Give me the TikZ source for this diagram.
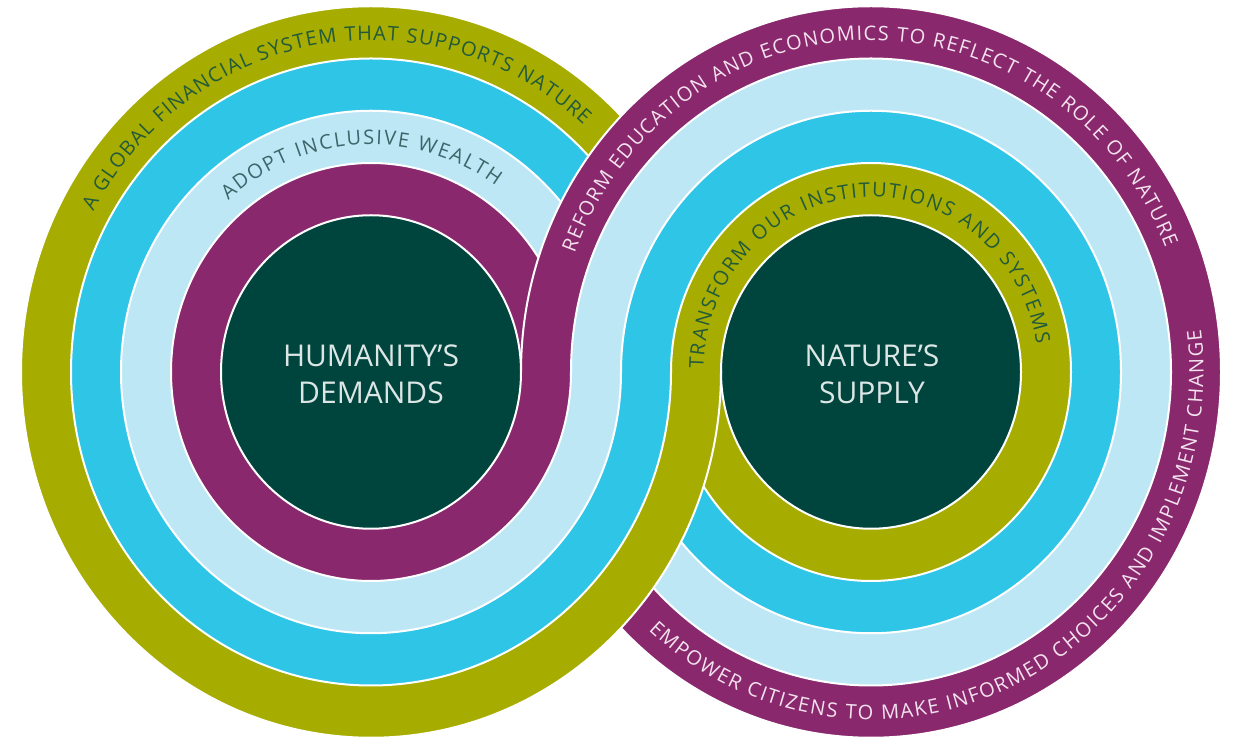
\documentclass[tikz,border=0pt]{standalone}
\usepackage{fontspec}
\setmainfont{Open Sans}
\usetikzlibrary{decorations.text,calc}
\definecolor{cOlive}{HTML}{A6AD00}
\definecolor{cCyan}{HTML}{2FC5E7}
\definecolor{cLight}{HTML}{BEE7F6}
\definecolor{cPurple}{HTML}{8A286D}
\definecolor{cDark}{HTML}{00443E}
\definecolor{tOlive}{HTML}{225A3B}
\definecolor{tLight}{HTML}{3D6569}
\definecolor{tPurple}{HTML}{F3E2EE}
\definecolor{tCenter}{HTML}{DCE7E5}
\newcommand\ringfont{\fontsize{20}{20}\selectfont}
\newcommand\leftdisc{%
  \fill[cOlive, band] (L) ellipse[x radius=350, y radius=365.75];
  \fill[cCyan, band] (L) ellipse[x radius=300, y radius=313.5];
  \fill[cLight, band] (L) ellipse[x radius=250, y radius=261.25];
  \fill[cPurple, band] (L) ellipse[x radius=200, y radius=209];
  \fill[cDark, band] (L) ellipse[x radius=150, y radius=156.75];}
\newcommand\rightdisc{%
  \fill[cPurple, band] (R) ellipse[x radius=350, y radius=365.75];
  \fill[cLight, band] (R) ellipse[x radius=300, y radius=313.5];
  \fill[cCyan, band] (R) ellipse[x radius=250, y radius=261.25];
  \fill[cOlive, band] (R) ellipse[x radius=200, y radius=209];
  \fill[cDark, band] (R) ellipse[x radius=150, y radius=156.75];}
\begin{document}
\begin{tikzpicture}[x=1pt,y=1pt,
  band/.style={draw=white, line width=2pt},
  centertext/.style={text=tCenter, font=\fontsize{30}{37}\selectfont, align=center, inner sep=0pt},
  ringtext/.style={decorate, decoration={text along path, text align=fit to path, text={#1}}}]
\useasboundingbox (0,0) rectangle (1235,742);
\fill[white] (0,0) rectangle (1235,742);
\coordinate (L) at (371,370);
\coordinate (R) at (871,370);
% layer 1: left disc
\leftdisc
% layer 2: right disc on top
\rightdisc
% layer 3: left disc on top in the lower half
\begin{scope}
  \clip (0,0) rectangle (1235,370);
  \leftdisc
\end{scope}
% texts on the bands
\path[ringtext={|\ringfont\color{tOlive}|A GLOBAL FINANCIAL SYSTEM THAT SUPPORTS NATURE}]
  ($(L)+(151:317.5 and 331.8)$) arc[start angle=151, end angle=48, x radius=317.5, y radius=331.8];
\path[ringtext={|\ringfont\color{tLight}|ADOPT INCLUSIVE WEALTH}]
  ($(L)+(131:217.5 and 227.3)$) arc[start angle=131, end angle=55, x radius=217.5, y radius=227.3];
\path[ringtext={|\ringfont\color{tPurple}|REFORM EDUCATION AND ECONOMICS TO REFLECT THE ROLE OF NATURE}]
  ($(R)+(159:317.5 and 331.8)$) arc[start angle=159, end angle=22, x radius=317.5, y radius=331.8];
\path[ringtext={|\ringfont\color{tOlive}|TRANSFORM OUR INSTITUTIONS AND SYSTEMS}]
  ($(R)+(179:167.5 and 175)$) arc[start angle=179, end angle=9, x radius=167.5, y radius=175];
\path[ringtext={|\ringfont\color{tPurple}|EMPOWER CITIZENS TO MAKE INFORMED CHOICES AND IMPLEMENT CHANGE}]
  ($(R)+(228:332.5 and 347.5)$) arc[start angle=228, end angle=367, x radius=332.5, y radius=347.5];
% centre texts
\node[centertext] (hum) at (371,368) {HUMANITY’S\\DEMANDS};
\node[centertext] (nat) at (872,368) {NATURE’S\\SUPPLY};
\end{tikzpicture}
\end{document}
